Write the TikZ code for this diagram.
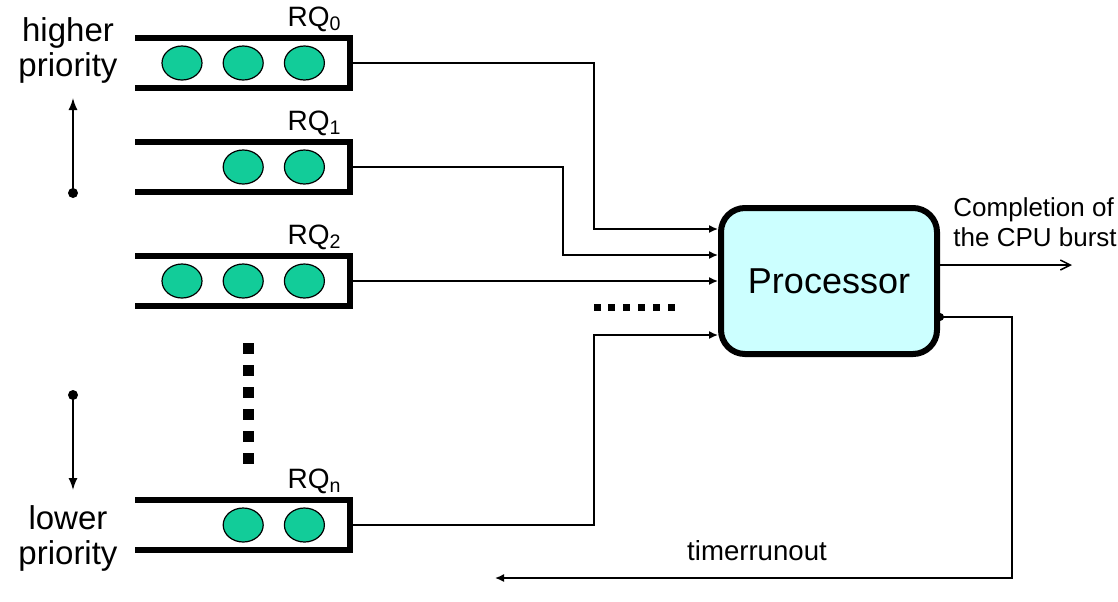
\documentclass[tikz,border=0pt]{standalone}
\usepackage{fontspec}
\setmainfont{Liberation Sans}
\usetikzlibrary{%
  positioning
 ,arrows.meta
 ,shapes.geometric
}
\definecolor{jobgreen}{HTML}{12CC99}
\definecolor{proccyan}{HTML}{CCFFFF}
\tikzstyle{queue}=[rectangle,minimum width=107.5pt,minimum height=25pt,inner sep=0pt,outer sep=0pt]
\tikzstyle{bar}=[line width=3pt,miter limit=10]
\tikzstyle{job}=[ellipse,draw=black,fill=jobgreen,line width=0.6pt,minimum width=20pt,minimum height=17pt,inner sep=0pt]
\tikzstyle{rq}=[inner sep=0pt,font=\fontsize{14}{16}\selectfont]
\tikzstyle{proc}=[rectangle,rounded corners=12pt,draw=black,line width=3pt,fill=proccyan,minimum width=108pt,minimum height=73pt,font=\fontsize{18}{20}\selectfont]
\tikzstyle{lbl}=[inner sep=0pt,font=\fontsize{13}{15}\selectfont]
\tikzstyle{prio}=[inner sep=0pt,align=center,font=\fontsize{16.5}{17.5}\selectfont]

\begin{document}
\begin{tikzpicture}[x=0.5pt,y=-0.5pt,
    conn/.style={line width=0.75pt,-{Latex[length=4.5pt,width=4pt]}}]
  \tikzstyle{outarr} = [line width=0.75pt,-{Straight Barb[length=5pt,width=5pt]}]
  \tikzstyle{parr} = [line width=0.75pt,-{Latex[length=6pt,width=4.5pt]}]
  \useasboundingbox (0,0) rectangle (1118,601);
  % the queues
  \node[queue](q0) at (242.5,63){};
  \node[queue](q1) at (242.5,167){};
  \node[queue](q2) at (242.5,281){};
  \node[queue](qn) at (242.5,525){};
  \foreach \q in {q0,q1,q2,qn}
    \draw[bar] (\q.north west) -- (\q.north east) -- (\q.south east) -- (\q.south west);
  \node[rq,above left=3pt and 4pt of q0.north east](rq0){RQ\textsubscript{0}};
  \node[rq,above left=3pt and 4pt of q1.north east](rq1){RQ\textsubscript{1}};
  \node[rq,above left=3pt and 4pt of q2.north east](rq2){RQ\textsubscript{2}};
  \node[rq,above left=3pt and 4pt of qn.north east](rqn){RQ\textsubscript{n}};
  % the jobs
  \node[job,left=12.5pt of q0.east](j03){};
  \node[job,left=10pt of j03](j02){};
  \node[job,left=10pt of j02](j01){};
  \node[job,left=12.5pt of q1.east](j13){};
  \node[job,left=10pt of j13](j12){};
  \node[job,left=12.5pt of q2.east](j23){};
  \node[job,left=10pt of j23](j22){};
  \node[job,left=10pt of j22](j21){};
  \node[job,left=12.5pt of qn.east](jn3){};
  \node[job,left=10pt of jn3](jn2){};
  \foreach \i in {0,...,5}
    \fill ({248-5.5},{342.5+\i*22}) rectangle ++(11,11);
  % the processor
  \node[proc](proc) at (829,281){Processor};
  \coordinate (in0) at (proc.west |- 0,229);
  \coordinate (in1) at (proc.west |- 0,255);
  \coordinate (in2) at (proc.west |- q2.east);
  \coordinate (in3) at (proc.west |- 0,335);
  \draw[conn] (q0.east) -| (594,229) -- (in0);
  \draw[conn] (q1.east) -| (563,255) -- (in1);
  \draw[conn] (q2.east) -- (in2);
  \draw[conn] (qn.east) -| (594,335) -- (in3);
  \foreach \i in {0,...,5}
    \fill ({597+\i*14.8-3.5},303.5) rectangle ++(7,7);
  % the way out
  \coordinate (out) at (proc.east |- 0,265);
  \coordinate (done) at (1072,265);
  \draw[outarr] (out) -- (done);
  \node[lbl,align=left,anchor=north west](cpl) at (953,197){Completion of\\the CPU burst};
  \coordinate (tmr) at (proc.east |- 0,317);
  \coordinate (back) at (495,578);
  \draw[conn] (tmr) -- (1012,317) |- (back);
  \fill (tmr) circle (2pt);
  \node[lbl,font=\fontsize{13.8}{15}\selectfont](tro) at (757,551){timerrunout};
  % the priorities
  \node[prio](hi) at (68,50){higher\\priority};
  \node[prio](lo) at (68,538){lower\\priority};
  \coordinate (hitop) at (73,98); \coordinate (hidot) at (73,193);
  \coordinate (lodot) at (73,395); \coordinate (lobot) at (73,490);
  \draw[parr] (hidot) -- (hitop);
  \draw[parr] (lodot) -- (lobot);
  \fill (hidot) circle (2.5pt) (lodot) circle (2.5pt);
\end{tikzpicture}
\end{document}
